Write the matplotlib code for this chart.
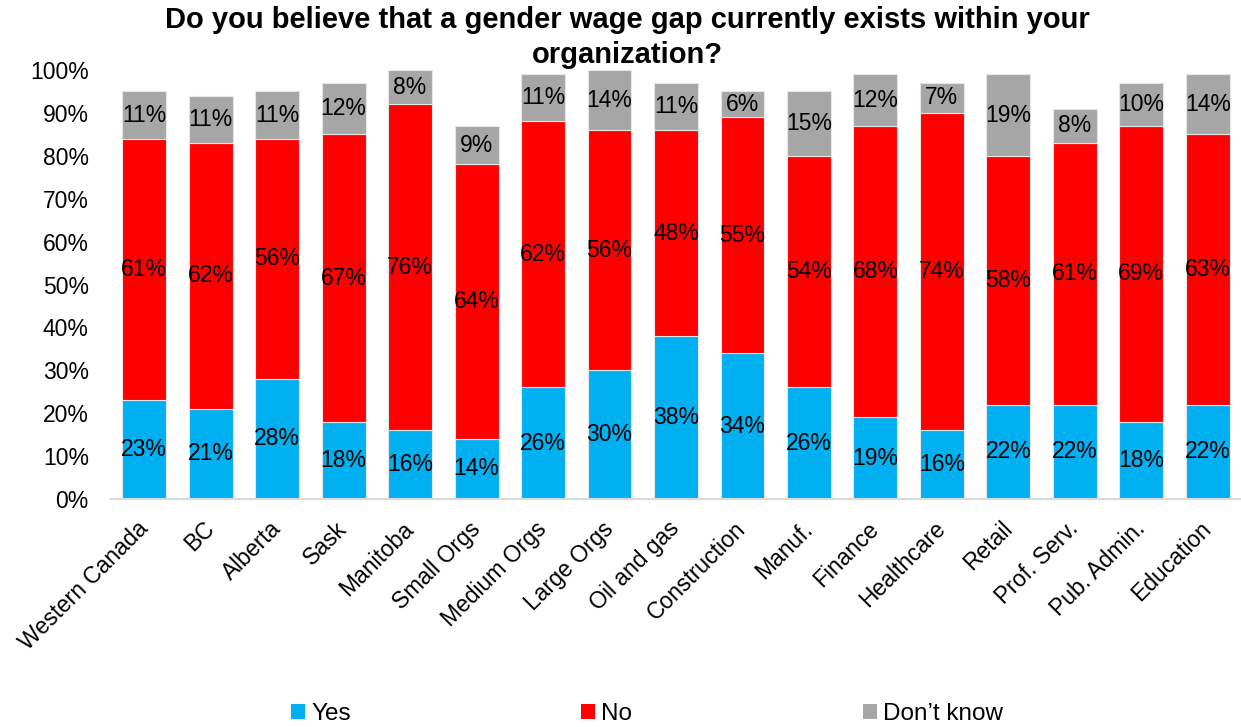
import numpy as np
import matplotlib
matplotlib.use('Agg')
import matplotlib.pyplot as plt
from matplotlib.patches import Patch
from matplotlib.ticker import FuncFormatter

plt.rcParams['font.family'] = ['Liberation Sans', 'DejaVu Sans']

# Survey results (% of respondents)
groups = ['Western Canada', 'BC', 'Alberta', 'Sask', 'Manitoba', 'Small Orgs',
          'Medium Orgs', 'Large Orgs', 'Oil and gas', 'Construction', 'Manuf.',
          'Finance', 'Healthcare', 'Retail', 'Prof. Serv.', 'Pub. Admin.', 'Education']
yes = [23, 21, 28, 18, 16, 14, 26, 30, 38, 34, 26, 19, 16, 22, 22, 18, 22]
no = [61, 62, 56, 67, 76, 64, 62, 56, 48, 55, 54, 68, 74, 58, 61, 69, 63]
dont_know = [11, 11, 11, 12, 8, 9, 11, 14, 11, 6, 15, 12, 7, 19, 8, 10, 14]

series_names = ['Yes', 'No', 'Don\u2019t know']
colors = ['#00B0F0', '#FF0000', '#A6A6A6']

W, H = 1241, 727
fig = plt.figure(figsize=(W / 100, H / 100), dpi=100)
ax = fig.add_axes([111 / W, 1 - 499 / H, (1241 - 111) / W, (499 - 70) / H])

fs = 16.5
x = np.arange(len(groups))
bottom = np.zeros(len(groups))
for vals, name, col in zip([yes, no, dont_know], series_names, colors):
    vals = np.array(vals)
    bars = ax.bar(x, vals, width=0.66, bottom=bottom, color=col,
                  edgecolor='#E6E6E6', linewidth=0.8, label=name)
    ax.bar_label(bars, labels=[f'{v}%' for v in vals], label_type='center',
                 fontsize=fs, color='black')
    bottom += vals

ax.set_xlim(-0.5, len(groups) - 0.5)
ax.set_ylim(0, 100)
ax.set_yticks(np.arange(0, 101, 10))
ax.yaxis.set_major_formatter(FuncFormatter(lambda v, _: f'{v:.0f}%'))
ax.tick_params(axis='y', length=0, labelsize=fs, pad=16)
ax.tick_params(axis='x', length=0, pad=19)
ax.set_xticks(x)
ax.set_xticklabels(groups, rotation=45, ha='right', va='center',
                   rotation_mode='anchor', fontsize=fs)

for side in ['top', 'right', 'left']:
    ax.spines[side].set_visible(False)
ax.spines['bottom'].set_color('#D9D9D9')
ax.spines['bottom'].set_linewidth(1.5)

fig.text(627 / W, 1 - 6 / H,
         'Do you believe that a gender wage gap currently exists within your\norganization?',
         ha='center', va='top', fontsize=21, fontweight='bold',
         linespacing=1.3)

handles = [Patch(facecolor=c, label=n) for c, n in zip(colors, series_names)]
fig.legend(handles=handles, loc='center', bbox_to_anchor=(647 / W, 1 - 714 / H),
           ncol=3, frameon=False, fontsize=17.5, handlelength=0.56, handleheight=0.56,
           handletextpad=0.25, columnspacing=9.5, borderpad=0)

fig.savefig('out.png', dpi=100)
